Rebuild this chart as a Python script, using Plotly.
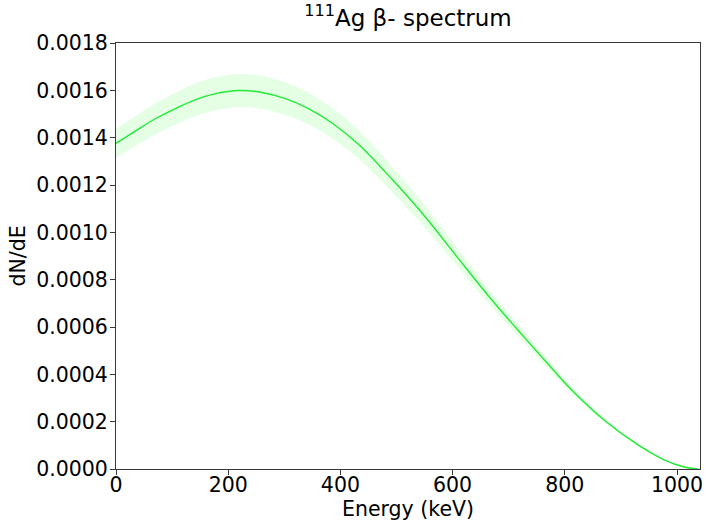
import plotly.graph_objects as go

energy_kev = [0, 35, 71, 107, 142, 178, 219, 260, 302, 343, 385, 433, 492, 551, 610, 670, 729, 776, 811, 871,
              930, 977, 1013, 1037]
dnde = [0.001376, 0.001429, 0.001481, 0.001524, 0.001561, 0.001586, 0.001599, 0.001591, 0.001565, 0.001523,
        0.001462, 0.001370, 0.001224, 0.001066, 0.000890, 0.000714, 0.000553, 0.000428, 0.000337, 0.000205,
        0.000103, 0.000039, 0.0000084, 0.0]
dnde_upper = [0.001437, 0.001492, 0.001546, 0.001591, 0.001630, 0.001656, 0.001669, 0.001661, 0.001634, 0.001590,
              0.001526, 0.001430, 0.001278, 0.001113, 0.000929, 0.000745, 0.000577, 0.000447, 0.000352, 0.000214,
              0.000108, 0.0000407, 0.0000088, 0.0]
dnde_lower = [0.001315, 0.001366, 0.001416, 0.001457, 0.001492, 0.001516, 0.001529, 0.001521, 0.001496, 0.001456,
              0.001398, 0.001310, 0.001170, 0.001019, 0.000851, 0.000683, 0.000529, 0.000409, 0.000322, 0.000196,
              0.000098, 0.0000373, 0.0000080, 0.0]
x_ticks = [0, 200, 400, 600, 800, 1000]
y_ticks = [0.0000, 0.0002, 0.0004, 0.0006, 0.0008, 0.0010, 0.0012, 0.0014, 0.0016, 0.0018]

FONT = "DejaVu Sans"
band_col = "rgba(0,255,0,0.1)"
line_col = "rgb(30,235,50)"
spl = dict(shape="spline", smoothing=1.0)

fig = go.Figure()
fig.add_trace(go.Scatter(x=energy_kev, y=dnde_upper, mode="lines", line=dict(width=0, **spl),
                         hoverinfo="skip", showlegend=False))
fig.add_trace(go.Scatter(x=energy_kev, y=dnde_lower, mode="lines", line=dict(width=0, **spl),
                         fill="tonexty", fillcolor=band_col, hoverinfo="skip", showlegend=False))
fig.add_trace(go.Scatter(x=energy_kev, y=dnde, mode="lines", line=dict(color=line_col, width=1.4, **spl),
                         showlegend=False))

axis_common = dict(showline=True, linecolor="#3a3a3a", linewidth=1, mirror=True, ticks="outside",
                   ticklen=5, tickwidth=1, tickcolor="#3a3a3a", showgrid=False, zeroline=False,
                   tickfont=dict(family=FONT, size=20.5, color="black"))

fig.update_layout(
    width=706, height=524,
    margin=dict(l=116, r=3, t=43, b=55),
    paper_bgcolor="white", plot_bgcolor="white",
    font=dict(family=FONT, color="black"),
    title=dict(text="<sup>111</sup>Ag β- spectrum", x=0.5, xref="paper", xanchor="center",
               y=0.966, yref="container", yanchor="middle",
               font=dict(family=FONT, size=23, color="black")),
    xaxis=dict(range=[0, 1041], tickvals=x_ticks, ticktext=[str(v) for v in x_ticks],
               ticklabelstandoff=-8,
               title=dict(text="Energy (keV)", font=dict(family=FONT, size=20.5), standoff=2), **axis_common),
    yaxis=dict(range=[0, 0.0018], tickvals=y_ticks, ticktext=[f"{v:.4f}" for v in y_ticks],
               ticklabelstandoff=-2,
               title=dict(text="dN/dE", font=dict(family=FONT, size=20.5), standoff=4), **axis_common),
)

fig.write_html("out.html")
